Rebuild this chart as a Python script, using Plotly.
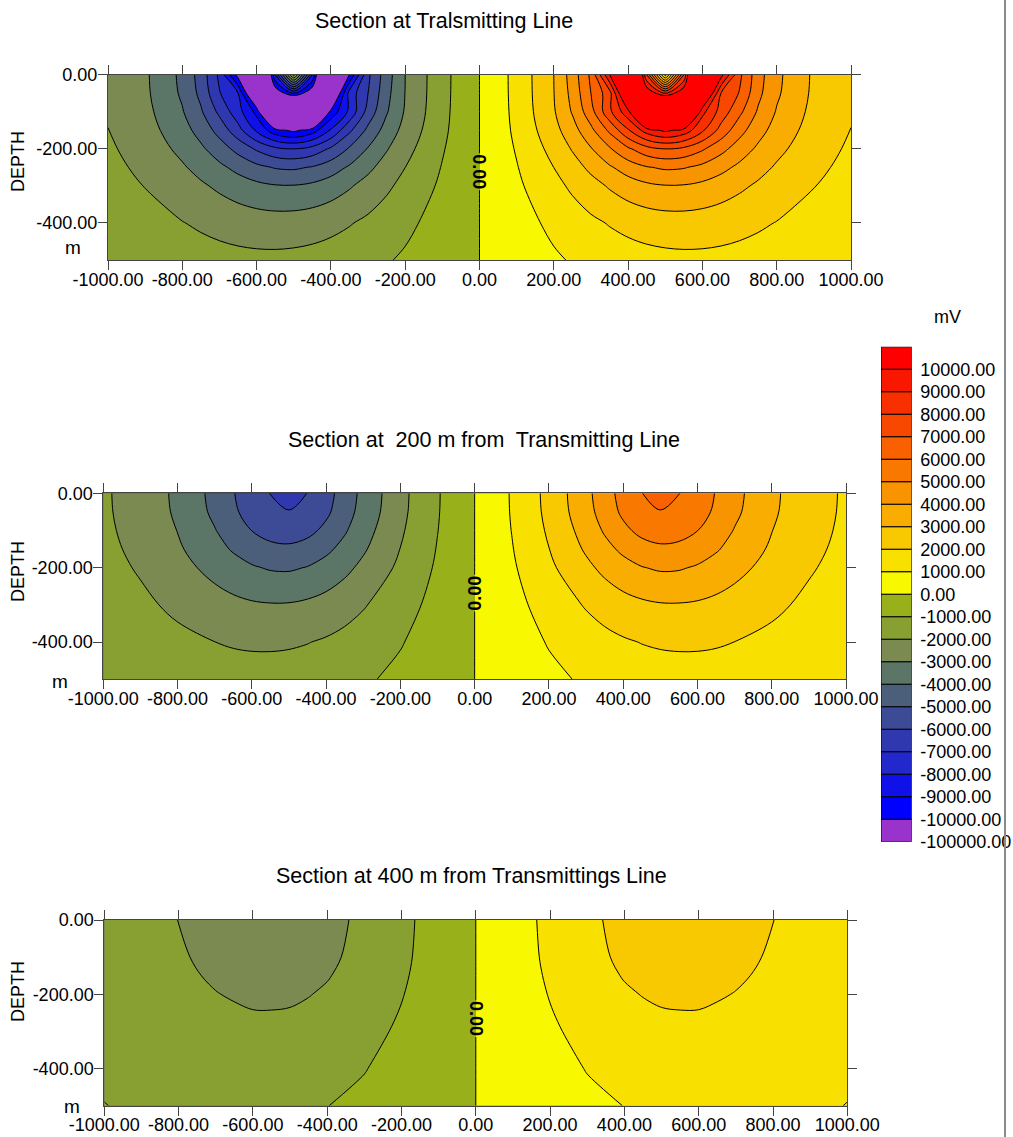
import plotly.graph_objects as go

# ---------------- data ----------------
X1 = [-1000, -900, -800, -750, -700, -650, -600, -550, -500, -450, -400, -350, -300, -250, -200, -100, 0,
      100, 200, 250, 300, 350, 400, 450, 500, 550, 600, 650, 700, 750, 800, 900, 1000]
DEPTH1 = [0, -50, -100, -150, -200, -250, -300, -400, -500]
Z1 = [
    [-2150, -2846, -4230, -5396, -7221, -10411, -17199, -8000, -500, -8000, -16897, -9949, -6200, -4450, -3000, -1300, 0,
     1300, 3000, 4450, 6200, 9949, 16897, 8000, 500, 8000, 17199, 10411, 7221, 5396, 4230, 2846, 2150],
    [-2120, -2814, -4150, -5253, -6937, -8000, -12500, -11000, -9000, -11000, -12300, -7600, -6000, -4300, -2980, -1290, 0,
     1290, 2980, 4300, 6000, 7600, 12300, 11000, 9000, 11000, 12500, 8000, 6937, 5253, 4150, 2814, 2120],
    [-2060, -2721, -3928, -4876, -6229, -7600, -9300, -14900, -17071, -14785, -9700, -7767, -5613, -4086, -2900, -1260, 0,
     1260, 2900, 4086, 5613, 7767, 9700, 14785, 17071, 14900, 9300, 7600, 6229, 4876, 3928, 2721, 2060],
    [-1990, -2580, -3611, -4367, -5358, -6637, -8168, -9628, -10235, -9484, -7878, -6194, -4754, -3596, -2657, -1197, 0,
     1197, 2657, 3596, 4754, 6194, 7878, 9484, 10235, 9628, 8168, 6637, 5358, 4367, 3611, 2580, 1990],
    [-1860, -2407, -3252, -3826, -4519, -5313, -6134, -6786, -7004, -6645, -5852, -4882, -3932, -3076, -2328, -1078, 0,
     1078, 2328, 3076, 3932, 4882, 5852, 6645, 7004, 6786, 6134, 5313, 4519, 3826, 3252, 2407, 1860],
    [-1735, -2217, -2890, -3314, -3788, -4287, -4746, -5067, -5147, -4931, -4472, -3872, -3223, -2593, -2004, -951, 0,
     951, 2004, 2593, 3223, 3872, 4472, 4931, 5147, 5067, 4746, 4287, 3788, 3314, 2890, 2217, 1735],
    [-1620, -2025, -2551, -2860, -3183, -3500, -3768, -3935, -3954, -3805, -3505, -3101, -2642, -2171, -1706, -827, 0,
     827, 1706, 2171, 2642, 3101, 3505, 3805, 3954, 3935, 3768, 3500, 3183, 2860, 2551, 2025, 1620],
    [-1388, -1659, -1972, -2134, -2288, -2421, -2516, -2559, -2535, -2441, -2278, -2063, -1802, -1515, -1219, -610, 0,
     610, 1219, 1515, 1802, 2063, 2278, 2441, 2535, 2559, 2516, 2421, 2288, 2134, 1972, 1659, 1388],
    [-1170, -1348, -1530, -1614, -1688, -1744, -1775, -1777, -1740, -1671, -1564, -1425, -1259, -1072, -871, -443, 0,
     443, 871, 1072, 1259, 1425, 1564, 1671, 1740, 1777, 1775, 1744, 1688, 1614, 1530, 1348, 1170],
]

X2 = [-1000, -900, -800, -700, -650, -600, -550, -500, -450, -400, -350, -300, -200, -100, 0,
      100, 200, 300, 350, 400, 450, 500, 550, 600, 650, 700, 800, 900, 1000]
DEPTH2 = [0, -50, -100, -150, -200, -300, -400, -500]
Z2 = [
    [-1879, -2407, -3187, -4293, -4941, -5643, -6020, -6444, -5980, -5384, -4540, -3735, -2281, -1078, 0,
     1078, 2281, 3735, 4540, 5384, 5980, 6444, 6020, 5643, 4941, 4293, 3187, 2407, 1879],
    [-1866, -2385, -3144, -4201, -4808, -5459, -5800, -5950, -5750, -5201, -4408, -3645, -2242, -1062, 0,
     1062, 2242, 3645, 4408, 5201, 5750, 5950, 5800, 5459, 4808, 4201, 3144, 2385, 1866],
    [-1827, -2319, -3020, -3950, -4506, -5012, -5410, -5534, -5282, -4754, -4108, -3402, -2131, -1018, 0,
     1018, 2131, 3402, 4108, 4754, 5282, 5534, 5410, 5012, 4506, 3950, 3020, 2319, 1827],
    [-1770, -2217, -2861, -3674, -4094, -4461, -4712, -4787, -4586, -4204, -3698, -3126, -1984, -951, 0,
     951, 1984, 3126, 3698, 4204, 4586, 4787, 4712, 4461, 4094, 3674, 2861, 2217, 1770],
    [-1694, -2090, -2652, -3310, -3634, -3905, -4085, -4118, -3958, -3649, -3241, -2772, -1803, -868, 0,
     868, 1803, 2772, 3241, 3649, 3958, 4118, 4085, 3905, 3634, 3310, 2652, 2090, 1694],
    [-1510, -1816, -2185, -2585, -2756, -2885, -2942, -2930, -2822, -2640, -2384, -2081, -1394, -690, 0,
     690, 1394, 2081, 2384, 2640, 2822, 2930, 2942, 2885, 2756, 2585, 2185, 1816, 1510],
    [-1308, -1536, -1782, -1995, -2085, -2133, -2140, -2109, -2028, -1896, -1723, -1516, -1060, -535, 0,
     535, 1060, 1516, 1723, 1896, 2028, 2109, 2140, 2133, 2085, 1995, 1782, 1536, 1308],
    [-1115, -1268, -1419, -1541, -1581, -1597, -1592, -1557, -1490, -1392, -1271, -1127, -785, -400, 0,
     400, 785, 1127, 1271, 1392, 1490, 1557, 1592, 1597, 1581, 1541, 1419, 1268, 1115],
]

X3 = [-1000, -900, -800, -700, -650, -600, -550, -500, -450, -400, -300, -200, -100, 0,
      100, 200, 300, 400, 450, 500, 550, 600, 650, 700, 800, 900, 1000]
DEPTH3 = [0, -100, -150, -200, -250, -300, -400, -500]
Z3 = [
    [-1388, -1659, -2010, -2288, -2421, -2516, -2559, -2535, -2441, -2278, -1802, -1219, -610, 0,
     610, 1219, 1802, 2278, 2441, 2535, 2559, 2516, 2421, 2288, 2010, 1659, 1388],
    [-1358, -1619, -1911, -2201, -2322, -2404, -2439, -2413, -2322, -2169, -1722, -1169, -587, 0,
     587, 1169, 1722, 2169, 2322, 2413, 2439, 2404, 2322, 2201, 1911, 1619, 1358],
    [-1327, -1570, -1840, -2101, -2209, -2279, -2309, -2276, -2192, -2049, -1631, -1112, -560, 0,
     560, 1112, 1631, 2049, 2192, 2276, 2309, 2279, 2209, 2101, 1840, 1570, 1327],
    [-1282, -1506, -1747, -1975, -2064, -2122, -2140, -2109, -2028, -1896, -1516, -1039, -525, 0,
     525, 1039, 1516, 1896, 2028, 2109, 2140, 2122, 2064, 1975, 1747, 1506, 1282],
    [-1228, -1431, -1641, -1835, -1906, -1975, -1975, -1955, -1865, -1732, -1390, -957, -486, 0,
     486, 957, 1390, 1732, 1865, 1955, 1975, 1975, 1906, 1835, 1641, 1431, 1228],
    [-1170, -1348, -1530, -1688, -1744, -1775, -1777, -1740, -1671, -1564, -1259, -871, -443, 0,
     443, 871, 1259, 1564, 1671, 1740, 1777, 1775, 1744, 1688, 1530, 1348, 1170],
    [-1090, -1200, -1320, -1420, -1450, -1460, -1445, -1410, -1345, -1265, -1030, -720, -365, 0,
     365, 720, 1030, 1265, 1345, 1410, 1445, 1460, 1450, 1420, 1320, 1200, 1090],
    [-990, -1080, -1150, -1200, -1205, -1200, -1180, -1140, -1080, -1010, -830, -580, -300, 0,
     300, 580, 830, 1010, 1080, 1140, 1180, 1200, 1205, 1200, 1150, 1080, 990],
]

TITLES = ["Section at Tralsmitting Line",
          "Section at\u00a0 200 m from\u00a0 Transmitting Line",
          "Section at 400 m from Transmittings Line"]

X_TICKS = [-1000, -800, -600, -400, -200, 0, 200, 400, 600, 800, 1000]
X_TICK_LABELS = ["-1000.00", "-800.00", "-600.00", "-400.00", "-200.00", "0.00",
                 "200.00", "400.00", "600.00", "800.00", "1000.00"]
Y_TICKS = [0, -200, -400]
Y_TICK_LABELS = ["0.00", "-200.00", "-400.00"]

LEVEL_START, LEVEL_END, LEVEL_STEP = -10000, 10000, 1000
BAND_COLORS = ["#9933cc", "#0000ff", "#1010e8", "#2228cc", "#3038b0", "#3d4a96", "#4b5f7a",
               "#5b7566", "#7a8a50", "#88a032", "#98b01a", "#f8f800", "#f8e000", "#f8c800",
               "#f8ad00", "#f89400", "#f87800", "#f86000", "#f84800", "#f83000", "#f81800", "#ff0000"]
BAND_LABELS = ["-100000.00", "-10000.00", "-9000.00", "-8000.00", "-7000.00", "-6000.00",
               "-5000.00", "-4000.00", "-3000.00", "-2000.00", "-1000.00", "0.00",
               "1000.00", "2000.00", "3000.00", "4000.00", "5000.00", "6000.00",
               "7000.00", "8000.00", "9000.00", "10000.00"]
UNIT = "mV"
ZERO_LABEL = "0.00"

# ---------------- layout helpers ----------------
W, H = 1013, 1137
FONT = "Liberation Sans, Arial, Helvetica, sans-serif"


def fx(p):
    return p / W


def fy(p):
    return 1 - p / H


n_bands = len(BAND_COLORS)
colorscale = [[i / (n_bands - 1), c] for i, c in enumerate(BAND_COLORS)]
zero_band = BAND_LABELS.index("0.00")

panels = [
    dict(x=X1, y=DEPTH1, z=Z1, xd=(108, 851), yd=(74.7, 260), title=TITLES[0], tpos=(443.5, 21),
         depth_pos=(18, 162), m_pos=(72.5, 247), zero_angle=90, zero_y=-262),
    dict(x=X2, y=DEPTH2, z=Z2, xd=(103.3, 846), yd=(493.3, 679.3), title=TITLES[1], tpos=(483.5, 440),
         depth_pos=(18, 572), m_pos=(60, 681), zero_angle=-90, zero_y=-268),
    dict(x=X3, y=DEPTH3, z=Z3, xd=(104.3, 847.3), yd=(920, 1105.7), title=TITLES[2], tpos=(471, 876),
         depth_pos=(18, 992), m_pos=(72, 1106), zero_angle=90, zero_y=-266),
]

fig = go.Figure()
annotations = []
shapes = []
axis_style = dict(ticks="outside", ticklen=9, tickwidth=1, tickcolor="#444", showline=True,
                  linecolor="#444", linewidth=1, mirror="ticks", showgrid=False, zeroline=False,
                  automargin=False, tickfont=dict(size=18, color="black", family=FONT))

for i, p in enumerate(panels, start=1):
    xa = "x" if i == 1 else f"x{i}"
    ya = "y" if i == 1 else f"y{i}"
    fig.add_trace(go.Contour(
        x=p["x"], y=p["y"][::-1], z=p["z"][::-1],
        xaxis=xa, yaxis=ya,
        autocontour=False,
        contours=dict(start=LEVEL_START, end=LEVEL_END, size=LEVEL_STEP, coloring="fill", showlines=True),
        line=dict(color="black", width=1, smoothing=1),
        colorscale=colorscale, showscale=False, hoverinfo="skip",
    ))
    xkey = "xaxis" if i == 1 else f"xaxis{i}"
    ykey = "yaxis" if i == 1 else f"yaxis{i}"
    fig.update_layout(**{
        xkey: dict(domain=[fx(p["xd"][0]), fx(p["xd"][1])], anchor=ya, range=[-1000, 1000],
                   tickmode="array", tickvals=X_TICKS, ticktext=X_TICK_LABELS,
                   ticklabelstandoff=-6, **axis_style),
        ykey: dict(domain=[fy(p["yd"][1]), fy(p["yd"][0])], anchor=xa, range=[-500, 0],
                   tickmode="array", tickvals=Y_TICKS, ticktext=Y_TICK_LABELS,
                   ticklabelstandoff=-3, **axis_style),
    })
    # break in the zero contour behind its label (two half-width patches in the adjacent band colours)
    shapes.append(dict(type="rect", xref=xa, yref=ya, x0=-5, x1=0, y0=p["zero_y"] - 50, y1=p["zero_y"] + 50,
                       fillcolor=BAND_COLORS[zero_band - 1], line=dict(width=0), layer="above"))
    shapes.append(dict(type="rect", xref=xa, yref=ya, x0=0, x1=5, y0=p["zero_y"] - 50, y1=p["zero_y"] + 50,
                       fillcolor=BAND_COLORS[zero_band], line=dict(width=0), layer="above"))
    annotations.append(dict(text=p["title"], x=fx(p["tpos"][0]), y=fy(p["tpos"][1]), xref="paper", yref="paper",
                            showarrow=False, font=dict(size=21.5, color="black", family=FONT),
                            xanchor="center", yanchor="middle"))
    annotations.append(dict(text="DEPTH", x=fx(p["depth_pos"][0]), y=fy(p["depth_pos"][1]), xref="paper",
                            yref="paper", showarrow=False, textangle=-90,
                            font=dict(size=18, color="black", family=FONT), xanchor="center", yanchor="middle"))
    annotations.append(dict(text="m", x=fx(p["m_pos"][0]), y=fy(p["m_pos"][1]), xref="paper", yref="paper",
                            showarrow=False, font=dict(size=19, color="black", family=FONT),
                            xanchor="center", yanchor="middle"))
    annotations.append(dict(text=f"<b>{ZERO_LABEL}</b>", x=0, y=p["zero_y"], xref=xa, yref=ya, showarrow=False,
                            textangle=p["zero_angle"], font=dict(size=18, color="black", family=FONT),
                            xanchor="center", yanchor="middle"))

# colour key drawn as stacked boxes
fig.add_trace(go.Bar(
    x=[0] * n_bands, y=[1] * n_bands, base=list(range(n_bands)), width=1,
    marker=dict(color=BAND_COLORS, line=dict(color="black", width=1)),
    xaxis="x4", yaxis="y4", hoverinfo="skip", showlegend=False,
))
fig.update_layout(
    xaxis4=dict(domain=[fx(881), fx(911.7)], anchor="y4", range=[-0.5, 0.5], visible=False, automargin=False),
    yaxis4=dict(domain=[fy(841.7), fy(346.7)], anchor="x4", range=[0, n_bands], side="right",
                tickmode="array", tickvals=list(range(n_bands)), ticktext=BAND_LABELS,
                ticks="outside", ticklen=4, tickcolor="rgba(0,0,0,0)", showline=False, automargin=False,
                showgrid=False, zeroline=False, tickfont=dict(size=18, color="black", family=FONT)),
)
annotations.append(dict(text=UNIT, x=fx(947), y=fy(317), xref="paper", yref="paper", showarrow=False,
                        font=dict(size=18, color="black", family=FONT), xanchor="center", yanchor="middle"))

shapes.append(dict(type="line", xref="paper", yref="paper", x0=fx(1005), x1=fx(1005), y0=0, y1=1,
                   line=dict(color="#8a8a8a", width=2)))

fig.update_layout(
    width=W, height=H, margin=dict(l=0, r=0, t=0, b=0, pad=0, autoexpand=False),
    paper_bgcolor="white", plot_bgcolor="white", showlegend=False,
    annotations=annotations, shapes=shapes,
    font=dict(family=FONT, color="black"),
)

fig.write_html("out.html")
